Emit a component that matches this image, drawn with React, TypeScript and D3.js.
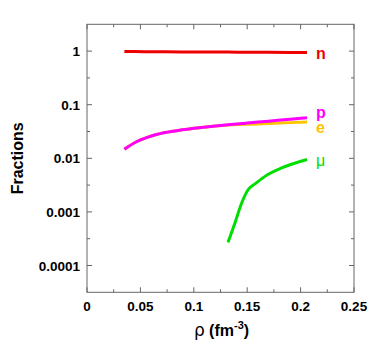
import React from "react";
import * as d3 from "d3";

const rhoMain = [0.035, 0.045, 0.057, 0.073, 0.089, 0.105, 0.118, 0.132, 0.15, 0.17, 0.19, 0.206];
const nFrac = [0.985, 0.979, 0.975, 0.970, 0.966, 0.963, 0.960, 0.958, 0.954, 0.950, 0.946, 0.943];
const pFrac = [0.0147, 0.0197, 0.0248, 0.0302, 0.034, 0.0372, 0.0396, 0.0422, 0.0455, 0.0493, 0.0536, 0.057];
const eFrac = [0.0147, 0.0197, 0.0248, 0.0302, 0.034, 0.0372, 0.0396, 0.0419, 0.043, 0.0444, 0.0463, 0.0475];
const rhoMu = [0.132, 0.1386, 0.1449, 0.151, 0.158, 0.1667, 0.1823, 0.206];
const muFrac = [2.7e-4, 6.3e-4, 1.48e-3, 2.62e-3, 3.4e-3, 4.6e-3, 6.6e-3, 9.5e-3];

const xTicks = [0, 0.05, 0.1, 0.15, 0.2, 0.25];
const xTickLabels = ["0", "0.05", "0.1", "0.15", "0.2", "0.25"];
const xMinor = [0.025, 0.075, 0.125, 0.175, 0.225];
const yTicks = [1, 0.1, 0.01, 0.001, 0.0001];
const yTickLabels = ["1", "0.1", "0.01", "0.001", "0.0001"];
const yMinor = [Math.pow(10, -0.5), Math.pow(10, -1.5), Math.pow(10, -2.5), Math.pow(10, -3.5)];

const series = [
  { name: "n", x: rhoMain, y: nFrac, color: "#ee0000", dy: 7, bold: true },
  { name: "e", x: rhoMain, y: eFrac, color: "#ffc400", dy: 10.5, bold: true },
  { name: "p", x: rhoMain, y: pFrac, color: "#ff00ff", dy: 0.5, bold: true },
  { name: "μ", x: rhoMu, y: muFrac, color: "#00dd00", dy: 7, bold: false },
];

export default function App() {
  const W = 381, H = 355;
  const L = 87, R = 354, T = 24.3, B = 292.3;
  const x = d3.scaleLinear().domain([0, 0.25]).range([L, R]);
  const y = d3.scaleLog().domain([Math.pow(10, -4.5), Math.pow(10, 0.5)]).range([B, T]);
  const line = d3
    .line<[number, number]>()
    .x((d) => x(d[0]))
    .y((d) => y(d[1]))
    .curve(d3.curveMonotoneX);
  const axisColor = "#666";
  const font = "'Liberation Sans', Arial, Helvetica, sans-serif";
  const maj = 5, mnr = 3;

  return (
    <svg width={W} height={H} style={{ position: "absolute", left: 0, top: 0, background: "#fff" }}>
      <rect x={0} y={0} width={W} height={H} fill="#fff" />
      {series.map((s) => (
        <path
          key={s.name}
          d={line(s.x.map((v, i) => [v, s.y[i]] as [number, number])) || ""}
          fill="none"
          stroke={s.color}
          strokeWidth={3}
          strokeLinecap="butt"
        />
      ))}
      {series.map((s) => (
        <text
          key={"l" + s.name}
          x={x(s.x[s.x.length - 1]) + 9}
          y={y(s.y[s.y.length - 1]) + s.dy}
          fill={s.color}
          fontFamily={font}
          fontWeight={s.bold ? "bold" : "normal"}
          fontSize={16}
        >
          {s.name}
        </text>
      ))}
      <rect x={L} y={T} width={R - L} height={B - T} fill="none" stroke={axisColor} strokeWidth={1} />
      {xTicks.map((t) => (
        <g key={"xt" + t}>
          <line x1={x(t)} x2={x(t)} y1={B} y2={B - maj} stroke={axisColor} />
          <line x1={x(t)} x2={x(t)} y1={T} y2={T + maj} stroke={axisColor} />
        </g>
      ))}
      {xMinor.map((t) => (
        <g key={"xm" + t}>
          <line x1={x(t)} x2={x(t)} y1={B} y2={B - mnr} stroke={axisColor} />
          <line x1={x(t)} x2={x(t)} y1={T} y2={T + mnr} stroke={axisColor} />
        </g>
      ))}
      {yTicks.map((t) => (
        <g key={"yt" + t}>
          <line x1={L} x2={L + maj} y1={y(t)} y2={y(t)} stroke={axisColor} />
          <line x1={R} x2={R - maj} y1={y(t)} y2={y(t)} stroke={axisColor} />
        </g>
      ))}
      {yMinor.map((t) => (
        <g key={"ym" + t}>
          <line x1={L} x2={L + mnr} y1={y(t)} y2={y(t)} stroke={axisColor} />
          <line x1={R} x2={R - mnr} y1={y(t)} y2={y(t)} stroke={axisColor} />
        </g>
      ))}
      {xTicks.map((t, i) => (
        <text
          key={"xl" + t}
          x={x(t)}
          y={311}
          textAnchor="middle"
          fontFamily={font}
          fontWeight="bold"
          fontSize={13.5}
          fill="#000"
        >
          {xTickLabels[i]}
        </text>
      ))}
      {yTicks.map((t, i) => (
        <text
          key={"yl" + t}
          x={80}
          y={y(t) + 5}
          textAnchor="end"
          fontFamily={font}
          fontWeight="bold"
          fontSize={13.5}
          fill="#000"
        >
          {yTickLabels[i]}
        </text>
      ))}
      <text
        transform={`translate(23, ${(T + B) / 2}) rotate(-90)`}
        textAnchor="middle"
        fontFamily={font}
        fontWeight="bold"
        fontSize={16}
        fill="#000"
      >
        Fractions
      </text>
      <text x={(L + R) / 2 + 1} y={336} textAnchor="middle" fontFamily={font} fontSize={16} fill="#000">
        <tspan fontFamily="'DejaVu Sans', sans-serif" fontSize={17}>ρ</tspan>
        <tspan fontWeight="bold"> (fm</tspan>
        <tspan fontWeight="bold" fontSize={11} dy={-7}>-3</tspan>
        <tspan fontWeight="bold" dy={7}>)</tspan>
      </text>
    </svg>
  );
}
